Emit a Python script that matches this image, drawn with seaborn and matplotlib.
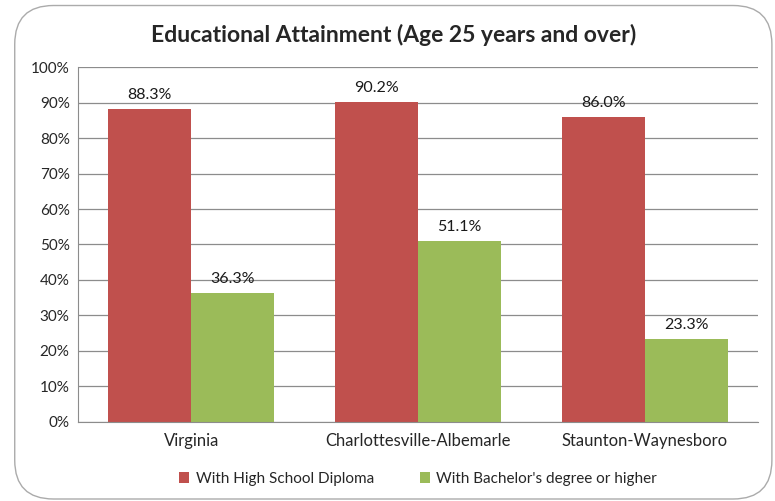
import matplotlib
matplotlib.use("Agg")
import matplotlib.pyplot as plt
from matplotlib.patches import FancyBboxPatch
import seaborn as sns
import pandas as pd

regioes = ["Virginia", "Charlottesville-Albemarle", "Staunton-Waynesboro"]
series = ["With High School Diploma", "With Bachelor's degree or higher"]
diploma = [88.3, 90.2, 86.0]
bacharel = [36.3, 51.1, 23.3]
cores = ["#C0504D", "#9BBB59"]

tabela = pd.DataFrame({
    "regiao": regioes * 2,
    "serie": [series[0]] * 3 + [series[1]] * 3,
    "valor": diploma + bacharel,
})

sns.set_style("white")
plt.rcParams["font.family"] = ["Lato", "DejaVu Sans"]

fig = plt.figure(figsize=(7.75, 5.01), dpi=100)
ax = fig.add_axes([0.1006, 0.158, 0.8774, 0.708])

# borda arredondada do grafico
borda = FancyBboxPatch((0.019, 0.004), 0.977, 0.985, boxstyle="round,pad=0,rounding_size=0.05",
                       transform=fig.transFigure, fill=False, edgecolor="#ABABAB", linewidth=1.0,
                       mutation_aspect=775 / 501)
fig.patches.append(borda)

sns.barplot(data=tabela, x="regiao", y="valor", hue="serie", palette=cores,
            width=0.733, saturation=1, linewidth=0, ax=ax, legend=True)

for cont in ax.containers:
    ax.bar_label(cont, fmt="%.1f%%", padding=5, fontsize=11.5, color="#1a1a1a")

ax.set_ylim(0, 100)
ax.set_yticks(range(0, 101, 10))
ax.set_yticklabels([f"{v}%" for v in range(0, 101, 10)], fontsize=11)
ax.tick_params(axis="x", labelsize=12, length=0, pad=8)
ax.tick_params(axis="y", length=0, pad=6)
ax.set_xlabel("")
ax.set_ylabel("")
ax.yaxis.grid(True, color="#8C8C8C", linewidth=0.9)
ax.set_axisbelow(True)
for lado in ["top", "right"]:
    ax.spines[lado].set_visible(False)
ax.spines["left"].set_color("#8C8C8C")
ax.spines["bottom"].set_color("#8C8C8C")

fig.text(0.508, 0.93, "Educational Attainment (Age 25 years and over)", ha="center", va="center",
         fontsize=16.5, fontweight="bold")

ax.legend(loc="center", bbox_to_anchor=(0.5, -0.16), ncol=2, frameon=False, fontsize=11,
          handlelength=0.7, handleheight=0.7, handletextpad=0.4, columnspacing=3.0)

fig.savefig("out.png", dpi=100)
